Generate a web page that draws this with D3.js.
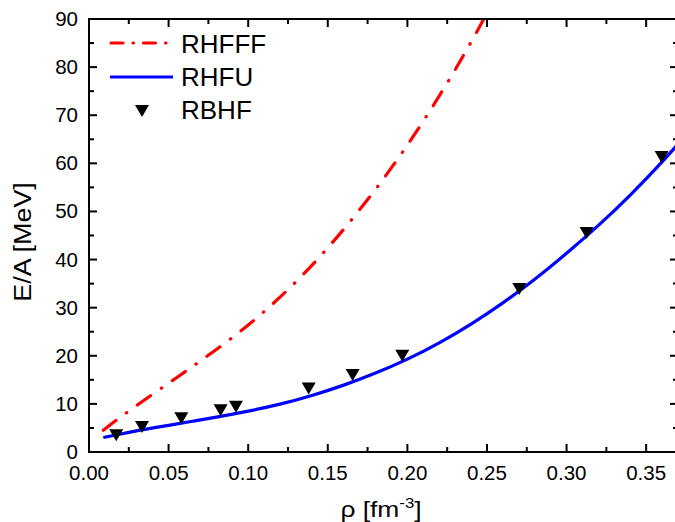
<!DOCTYPE html>
<html>
<head>
<meta charset="utf-8">
<script src="https://cdn.jsdelivr.net/npm/d3@7"></script>
<style>
  html, body { margin: 0; padding: 0; background: #fff; }
  svg { display: block; font-family: "Liberation Sans", Arial, sans-serif; }
</style>
</head>
<body>
<svg id="chart" width="675" height="522"></svg>
<script>
// ---- data ----
const rhfffRho = [0.009, 0.02, 0.04, 0.06, 0.08, 0.10, 0.12, 0.14, 0.16, 0.18, 0.20, 0.22, 0.24, 0.26];
const rhfffE   = [4.5, 7.3, 12.0, 16.6, 21.3, 26.4, 32.2, 38.8, 46.3, 54.6, 63.8, 74.0, 85.2, 97.4];

const rhfuRho = [0.009, 0.02, 0.033, 0.05, 0.065, 0.08, 0.10, 0.12, 0.14, 0.16, 0.18, 0.20, 0.22, 0.24, 0.26, 0.28, 0.30, 0.32, 0.34, 0.36, 0.37];
const rhfuE   = [3.0, 3.75, 4.6, 5.55, 6.4, 7.25, 8.5, 9.95, 11.75, 13.9, 16.4, 19.3, 22.7, 26.6, 31.0, 35.9, 41.3, 47.1, 53.4, 60.3, 64.0];

const rbhfRho = [0.0171, 0.0333, 0.058, 0.0827, 0.0923, 0.138, 0.1656, 0.1968, 0.2703, 0.3126, 0.3597];
const rbhfE   = [3.5, 5.2, 7.0, 8.7, 9.4, 13.2, 16.0, 20.0, 33.9, 45.5, 61.3];

const xTicks = [0, 0.05, 0.10, 0.15, 0.20, 0.25, 0.30, 0.35];
const xMinor = [0.025, 0.075, 0.125, 0.175, 0.225, 0.275, 0.325];
const yTicks = [0, 10, 20, 30, 40, 50, 60, 70, 80, 90];
const yMinor = [5, 15, 25, 35, 45, 55, 65, 75, 85];
const legendLabels = ["RHFFF", "RHFU", "RBHF"];

// ---- layout ----
const svg = d3.select("#chart");
const x = d3.scaleLinear().domain([0, 0.37]).range([89, 678]);
const y = d3.scaleLinear().domain([0, 90]).range([452, 19]);

svg.append("defs").append("clipPath").attr("id", "plotclip")
  .append("rect").attr("x", x(0)).attr("y", y(90))
  .attr("width", x(0.37) - x(0)).attr("height", y(0) - y(90));

const line = d3.line().x(d => x(d[0])).y(d => y(d[1])).curve(d3.curveNatural);

const plot = svg.append("g").attr("clip-path", "url(#plotclip)");

// RHFFF red dash-dot
plot.append("path")
  .datum(rhfffRho.map((r, i) => [r, rhfffE[i]]))
  .attr("d", line)
  .attr("fill", "none").attr("stroke", "#ff0000").attr("stroke-width", 3.2)
  .attr("stroke-linecap", "round")
  .attr("stroke-dasharray", "16,13,0.5,13");

// RHFU blue
plot.append("path")
  .datum(rhfuRho.map((r, i) => [r, rhfuE[i]]))
  .attr("d", line)
  .attr("fill", "none").attr("stroke", "#0000ff").attr("stroke-width", 3.2);

// RBHF triangles
const tri = "M-7,-6L7,-6L0,6Z";
svg.append("g").selectAll("path.tri")
  .data(rbhfRho.map((r, i) => [r, rbhfE[i]]))
  .join("path")
  .attr("class", "tri")
  .attr("d", tri)
  .attr("transform", d => `translate(${x(d[0])},${y(d[1])})`)
  .attr("fill", "#000");

// ---- axes ----
const axisG = svg.append("g").attr("stroke", "#000").attr("stroke-width", 2);
axisG.append("line").attr("x1", x(0)).attr("x2", x(0.37)).attr("y1", y(0)).attr("y2", y(0));
axisG.append("line").attr("x1", x(0)).attr("x2", x(0.37)).attr("y1", y(90)).attr("y2", y(90));
axisG.append("line").attr("x1", x(0)).attr("x2", x(0)).attr("y1", y(0) + 1).attr("y2", y(90) - 1);
axisG.append("line").attr("x1", x(0.37)).attr("x2", x(0.37)).attr("y1", y(0)).attr("y2", y(90));

const tickG = svg.append("g").attr("stroke", "#000").attr("stroke-width", 2);
xTicks.forEach(v => {
  tickG.append("line").attr("x1", x(v)).attr("x2", x(v)).attr("y1", y(0)).attr("y2", y(0) - 8);
  tickG.append("line").attr("x1", x(v)).attr("x2", x(v)).attr("y1", y(90)).attr("y2", y(90) + 8);
});
xMinor.forEach(v => {
  tickG.append("line").attr("x1", x(v)).attr("x2", x(v)).attr("y1", y(0)).attr("y2", y(0) - 5);
  tickG.append("line").attr("x1", x(v)).attr("x2", x(v)).attr("y1", y(90)).attr("y2", y(90) + 5);
});
yTicks.forEach(v => {
  tickG.append("line").attr("x1", x(0)).attr("x2", x(0) + 8).attr("y1", y(v)).attr("y2", y(v));
  tickG.append("line").attr("x1", x(0.37)).attr("x2", x(0.37) - 8).attr("y1", y(v)).attr("y2", y(v));
});
yMinor.forEach(v => {
  tickG.append("line").attr("x1", x(0)).attr("x2", x(0) + 5).attr("y1", y(v)).attr("y2", y(v));
  tickG.append("line").attr("x1", x(0.37)).attr("x2", x(0.37) - 5).attr("y1", y(v)).attr("y2", y(v));
});

// tick labels
svg.append("g").selectAll("text.xt").data(xTicks).join("text")
  .attr("x", d => x(d)).attr("y", 480)
  .attr("text-anchor", "middle").attr("font-size", 20.5)
  .text(d => d3.format(".2f")(d));

svg.append("g").selectAll("text.yt").data(yTicks).join("text")
  .attr("x", 78).attr("y", d => y(d) + 7)
  .attr("text-anchor", "end").attr("font-size", 20.5)
  .text(d => d);

// axis titles
const xt = svg.append("g").attr("transform", "translate(381,517) scale(1.2,1)")
  .append("text").attr("text-anchor", "middle").attr("font-size", 22);
xt.append("tspan").text("ρ [fm");
xt.append("tspan").attr("font-size", 14).attr("dy", -9).text("-3");
xt.append("tspan").attr("dy", 9).text("]");

svg.append("g").attr("transform", "translate(31,242) rotate(-90) scale(1.17,1)")
  .append("text")
  .attr("text-anchor", "middle").attr("font-size", 23)
  .text("E/A [MeV]");

// ---- legend ----
const lg = svg.append("g");
lg.append("line").attr("x1", 111).attr("x2", 173).attr("y1", 43).attr("y2", 43)
  .attr("stroke", "#ff0000").attr("stroke-width", 3.2).attr("stroke-linecap", "round")
  .attr("stroke-dasharray", "12,10,0.5,10");
lg.append("line").attr("x1", 110).attr("x2", 173).attr("y1", 77).attr("y2", 77)
  .attr("stroke", "#0000ff").attr("stroke-width", 3.2);
lg.append("path").attr("d", tri).attr("transform", "translate(142,111)").attr("fill", "#000");
lg.selectAll("text").data(legendLabels).join("text")
  .attr("x", 181).attr("y", (d, i) => 53 + i * 33)
  .attr("font-size", 26).text(d => d);
</script>
</body>
</html>
